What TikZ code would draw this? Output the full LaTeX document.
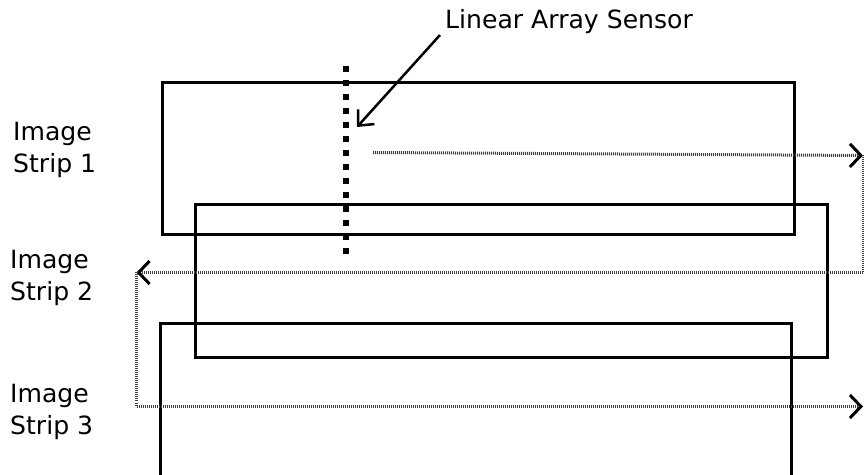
\documentclass[tikz,border=0pt]{standalone}
\usepackage{fontspec}
\setmainfont{DejaVu Sans}
\usetikzlibrary{arrows.meta}
\begin{document}
\begin{tikzpicture}[x=1bp,y=-1bp,
  strip/.style={draw=black, line width=3bp},
  scanline/.style={draw=black!75, line width=3bp, dash pattern=on 1bp off 1bp},
  scantip/.style={-{Straight Barb[length=11bp,width=23bp,line width=3bp,color=black]}},
  lbl/.style={font=\fontsize{25.2}{32}\selectfont, align=left, inner sep=0pt},
]
\useasboundingbox (0,0) rectangle (864,475);
\clip (0,0) rectangle (864,475);

% image strips
\node[strip, minimum width=631bp, minimum height=152bp, inner sep=0pt] (s1) at (478.5,159) {};
\node[strip, minimum width=631bp, minimum height=152bp, inner sep=0pt] (s2) at (511.5,281) {};
\draw[strip] (160,490) -- (160,324) -- (791,324) -- (791,490);

% linear array sensor
\coordinate (sTop) at (346,66);
\coordinate (sBot) at (346,254);
\draw[line width=6bp, dash pattern=on 6bp off 8bp] (sTop) -- (sBot);

% scan path, one segment at a time
\coordinate (p0) at (373,152.5);
\coordinate (p1) at (863,155.5);
\coordinate (p2) at (863,272.5);
\coordinate (p3) at (136.5,272.5);
\coordinate (p4) at (136.5,406.5);
\coordinate (p5) at (863,406.5);
\draw[scanline, scantip] (p0) -- (p1);
\draw[scanline] (p1) -- (p2);
\draw[scanline, scantip] (p2) -- (p3);
\draw[scanline] (p3) -- (p4);
\draw[scanline, scantip] (p4) -- (p5);

% labels
\node[lbl, anchor=west] (title) at (445,22) {Linear Array Sensor};
\draw[line width=2.5bp, -{Straight Barb[length=12bp,width=22bp]}] (440,35) -- (357,127);

\node[lbl, anchor=west] (l1) at (13,150) {Image\\Strip 1};
\node[lbl, anchor=west] (l2) at (10,278) {Image\\Strip 2};
\node[lbl, anchor=west] (l3) at (10,412) {Image\\Strip 3};
\end{tikzpicture}
\end{document}
